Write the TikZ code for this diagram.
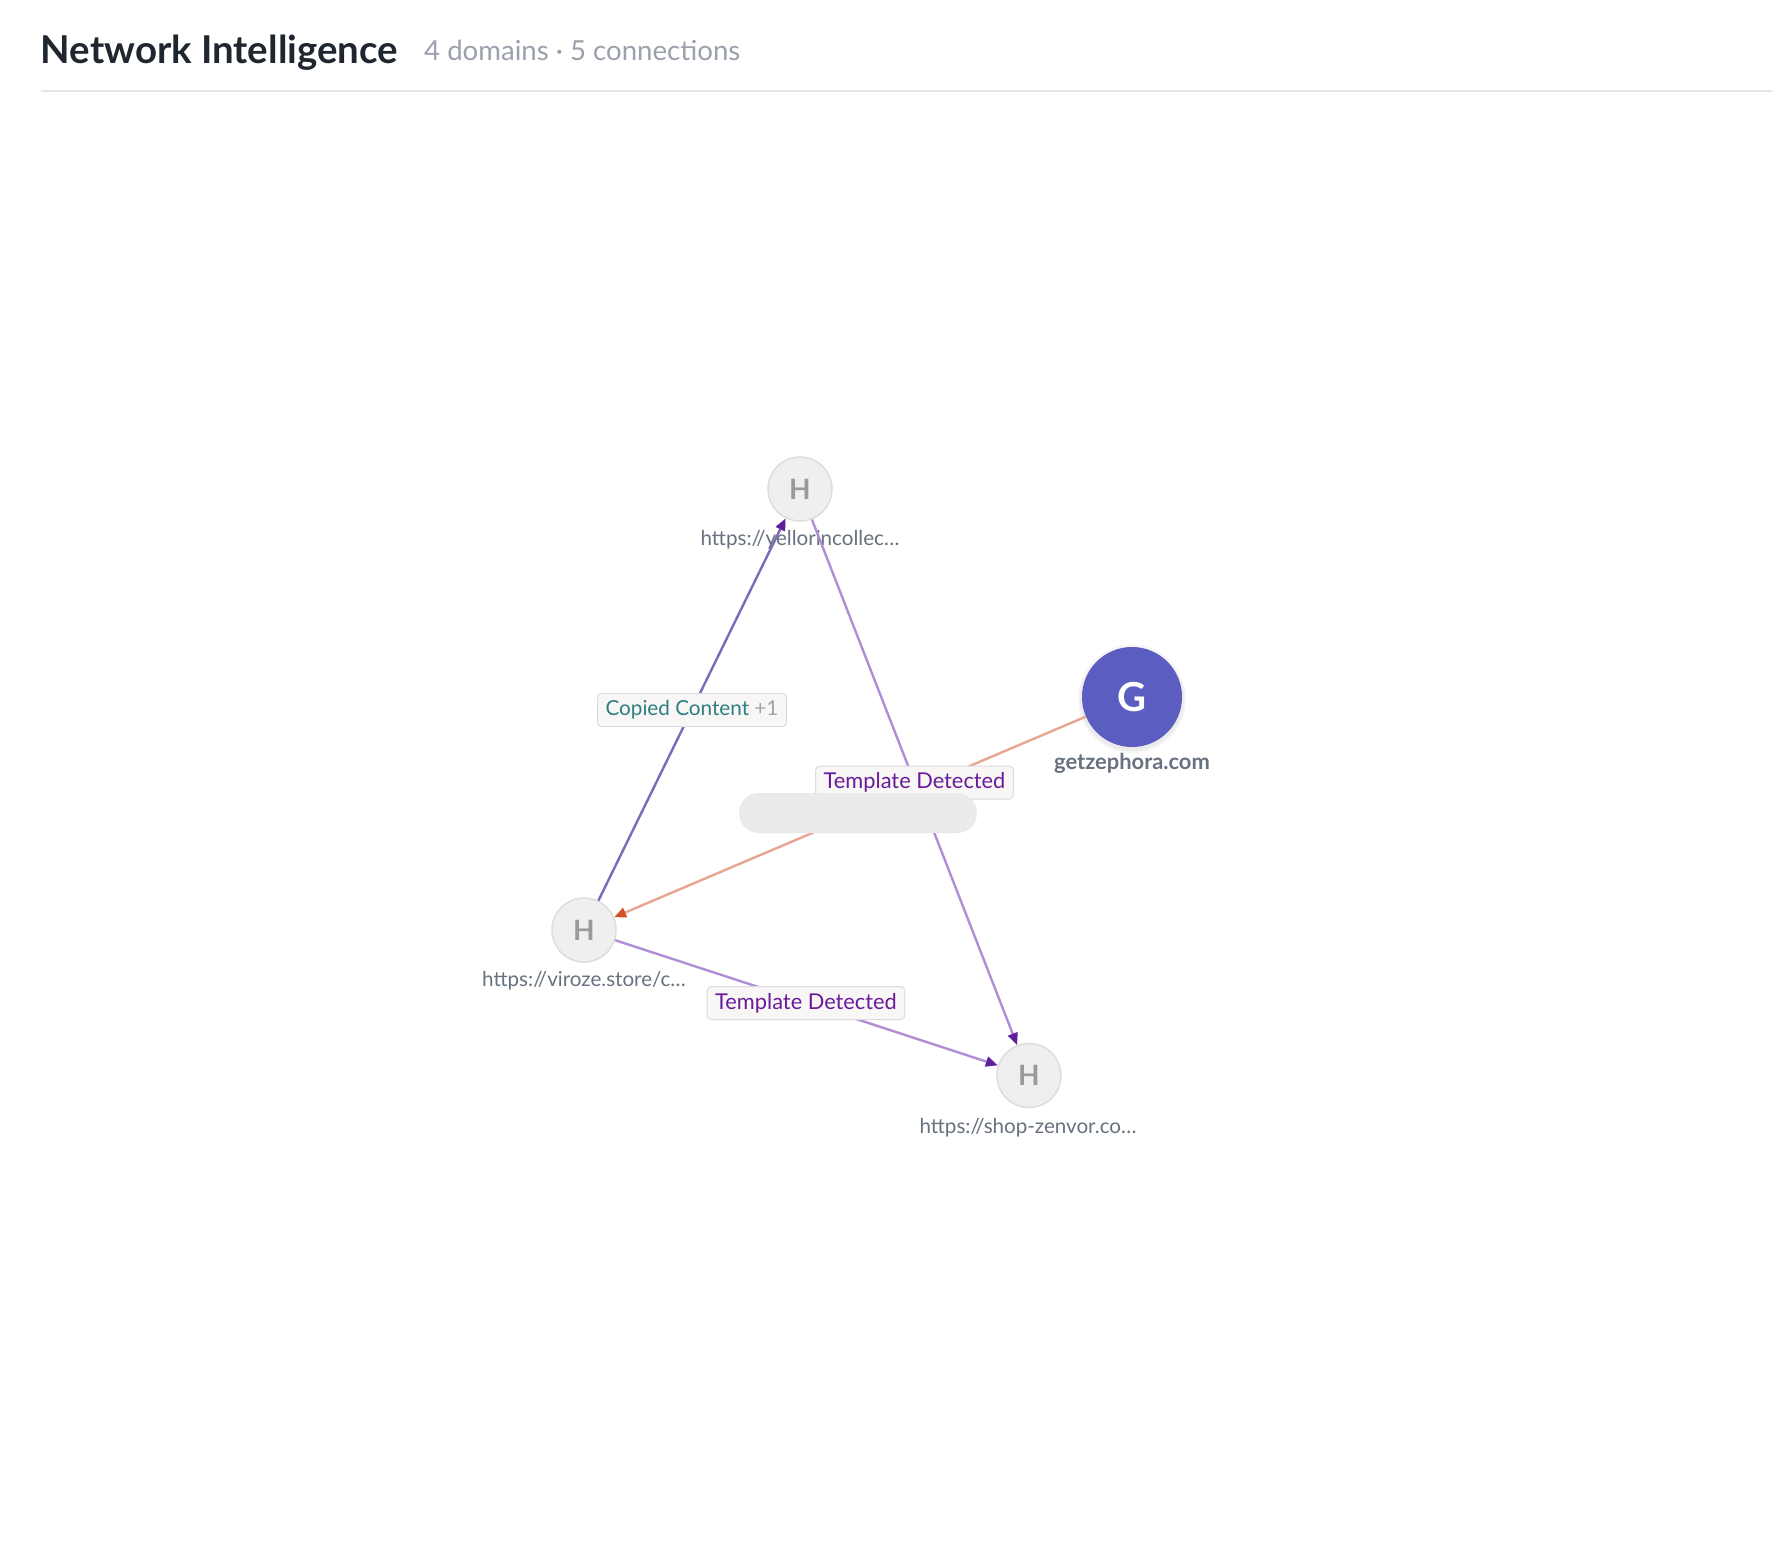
\documentclass[tikz,border=0pt]{standalone}
\usepackage{fontspec}
\setmainfont{Lato}
\usetikzlibrary{arrows.meta}
\definecolor{titlecol}{HTML}{1F2630}
\definecolor{subcol}{HTML}{9AA1AC}
\definecolor{sepcol}{HTML}{E3E5E8}
\definecolor{urlcol}{HTML}{68717F}
\definecolor{hfill}{HTML}{EFEFEF}
\definecolor{hdraw}{HTML}{DDDDDD}
\definecolor{hletter}{HTML}{9A9A9A}
\definecolor{gfill}{HTML}{5B5EC0}
\definecolor{edgeA}{HTML}{7A6CB8}
\definecolor{edgeB}{HTML}{B08ED6}
\definecolor{edgeC}{HTML}{E8A590}
\definecolor{arrpurple}{HTML}{5E1F9C}
\definecolor{arrorange}{HTML}{D4502A}
\definecolor{boxfill}{HTML}{F8F7F6}
\definecolor{boxdraw}{HTML}{DCDCE0}
\definecolor{tealtext}{HTML}{2E7F80}
\definecolor{purpletext}{HTML}{6A1B9A}
\definecolor{plusgray}{HTML}{A0A4AA}
\definecolor{pillcol}{HTML}{EAEAEA}
\tikzset{
  hnode/.style={circle, minimum size=64pt, inner sep=0pt, fill=hfill, draw=hdraw, line width=1.5pt,
    text=hletter, font=\fontsize{28}{30}\selectfont\bfseries},
  gnode/.style={circle, minimum size=100pt, inner sep=0pt, fill=gfill,
    text=white, font=\fontsize{40}{44}\selectfont\bfseries},
  urllbl/.style={anchor=base, inner sep=0pt, text=urlcol, font=\fontsize{20.6}{24}\selectfont},
  edgelbl/.style={rounded corners=4pt, fill=boxfill, draw=boxdraw, line width=1pt,
    inner xsep=8pt, inner ysep=0pt, minimum height=33pt, font=\fontsize{21.8}{24}\selectfont},
  pill/.style={rounded corners=20pt, fill=pillcol, minimum width=238pt, minimum height=40pt, inner sep=0pt},
  link/.style={line width=2.4pt},
  ptip/.style={-{Triangle[length=12pt,width=10pt,color=arrpurple]}},
  otip/.style={-{Triangle[length=12pt,width=10pt,color=arrorange]}}
}
\begin{document}
\begin{tikzpicture}[x=1pt,y=-1pt]
\useasboundingbox (0,0) rectangle (1772,1558);
\fill[white] (0,0) rectangle (1772,1558);

% header
\node[anchor=base west, inner sep=0pt, text=titlecol, font=\fontsize{38.4}{42}\selectfont\bfseries] (title) at (40.7,63) {Network Intelligence};
\node[anchor=base west, inner sep=0pt, text=subcol, font=\fontsize{27.6}{32}\selectfont] (sub) at (424,60) {4 domains · 5 connections};
\draw[sepcol, line width=2pt] (40.7,90.5) -- (1772,90.5);

% G shadow
\fill[black, opacity=0.04] (1132,699) circle (54);
\fill[black, opacity=0.04] (1132,699) circle (52);

% nodes
\node[hnode] (top) at (800,489) {H};
\node[hnode] (left) at (584,930) {H};
\node[hnode] (bot) at (1029,1075.5) {H};
\node[gnode] (g) at (1132,697) {G};

% url labels
\node[urllbl] (topl) at (800,545) {https://yellorincollec…};
\node[urllbl] (leftl) at (584,986) {https://viroze.store/c…};
\node[urllbl] (botl) at (1028,1133) {https://shop-zenvor.co…};
\node[urllbl, font=\fontsize{21.9}{24}\selectfont\bfseries] (gl) at (1132,769) {getzephora.com};

% edges
\draw[link, edgeA, ptip] (left) -- (top);
\draw[link, edgeB, ptip] (top) -- (bot);
\draw[link, edgeB, ptip] (left) -- (bot);
\draw[link, edgeC, otip] (g) -- (left);

% edge labels
\node[edgelbl, font=\fontsize{20.7}{24}\selectfont] (l1) at (692,710) {\textcolor{tealtext}{Copied Content} \textcolor{plusgray}{+1}};
\node[edgelbl, text=purpletext] (l2) at (914.5,782.5) {Template Detected};
\node[edgelbl, text=purpletext] (l3) at (806,1003) {Template Detected};
\node[pill] (p) at (858,813) {};
\end{tikzpicture}
\end{document}
